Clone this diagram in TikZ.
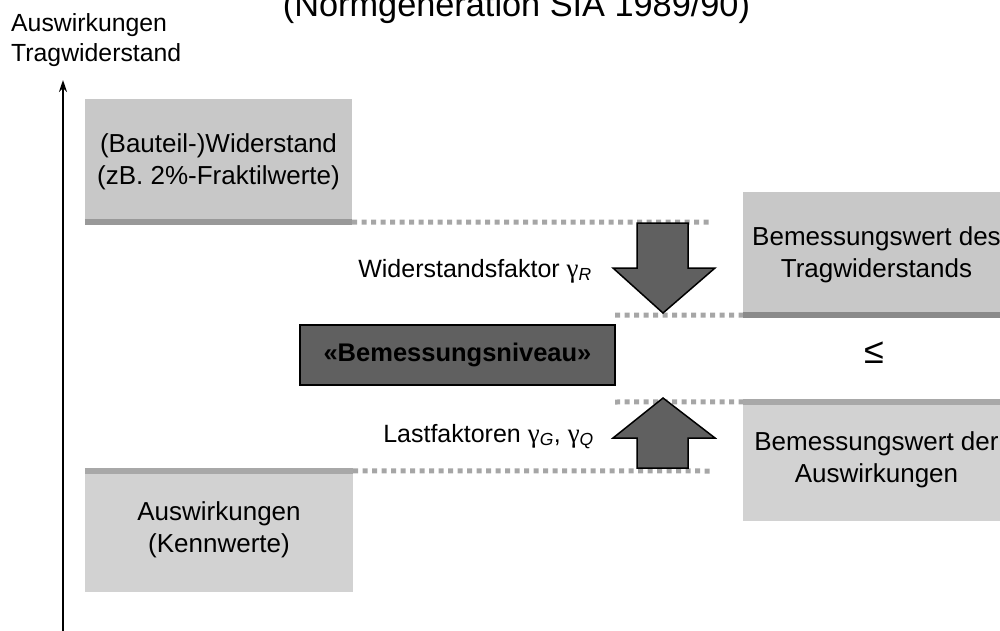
\documentclass[tikz,border=0pt]{standalone}
\usepackage{fontspec}
\setmainfont{Liberation Sans}
\newfontfamily\greekfont{Liberation Serif}
\usetikzlibrary{arrows.meta}
\definecolor{boxA}{HTML}{C8C8C8}
\definecolor{boxB}{HTML}{D2D2D2}
\definecolor{bandA}{HTML}{999999}
\definecolor{bandB}{HTML}{A8A8A8}
\definecolor{dotcol}{HTML}{A6A6A6}
\definecolor{darkfill}{HTML}{606060}
\newcommand{\gam}{{\greekfont\fontsize{27}{31}\selectfont γ}}
\begin{document}
\begin{tikzpicture}[x=1pt,y=-1pt,
  txt/.style={font=\fontsize{25}{31}\selectfont, align=center, inner sep=0pt},
  graybox/.style={draw=none, inner sep=0pt, minimum width=267pt, font=\fontsize{26}{32}\selectfont, align=center},
  band/.style={line width=6pt},
  guide/.style={line width=5pt, dotcol, dash pattern=on 5pt off 4.5pt},
  bigarrow/.style={fill=darkfill, draw=black, line width=1.5pt, line join=miter}
]
\useasboundingbox (0,0) rectangle (1000,631);
\clip (0,0) rectangle (1000,631);

% title and axis labels
\node[anchor=base, inner sep=0pt, font=\fontsize{34.3}{40}\selectfont] (title) at (516.5,17) {(Normgeneration SIA 1989/90)};
\node[anchor=base west, inner sep=0pt, font=\fontsize{24.8}{30}\selectfont] (ylab1) at (11,32) {Auswirkungen};
\node[anchor=base west, inner sep=0pt, font=\fontsize{24.8}{30}\selectfont] (ylab2) at (11,62) {Tragwiderstand};

% axis
\coordinate (ax0) at (63,640);
\coordinate (ax1) at (63,80);
\draw[line width=2.2pt, -{Stealth[length=12pt,width=8pt]}] (ax0) -- (ax1);

% gray boxes
\node[graybox, fill=boxA, minimum height=126pt] (tl) at (218.5,162) {(Bauteil-)Widerstand\\(zB. 2\%-Fraktilwerte)};
\node[graybox, fill=boxB, minimum width=268pt, minimum height=124pt] (bl) at (219,530) {Auswirkungen\\(Kennwerte)};
\node[graybox, fill=boxA, minimum height=126pt] (tr) at (876.5,255) {Bemessungswert des\\Tragwiderstands};
\node[graybox, fill=boxB, minimum height=122pt] (br) at (876.5,460) {Bemessungswert der\\Auswirkungen};

% bands at box edges
\draw[band, bandA] ([yshift=3pt]tl.south west) -- ([yshift=3pt]tl.south east);
\draw[band, bandB] ([yshift=-3pt]bl.north west) -- ([yshift=-3pt]bl.north east);
\draw[band, color=bandA!90!black] ([yshift=3pt]tr.south west) -- ([yshift=3pt]tr.south east);
\draw[band, bandB] ([yshift=-3pt]br.north west) -- ([yshift=-3pt]br.north east);

% guide lines
\coordinate (g1) at (712,222);
\coordinate (g2) at (615,315);
\coordinate (g3) at (615,402);
\coordinate (g4) at (712,471);
\draw[guide] ([yshift=3pt]tl.south east) -- (g1);
\draw[guide] (g2) -- ([yshift=3pt]tr.south west);
\draw[guide] (g3) -- ([yshift=-3pt]br.north west);
\draw[guide] ([yshift=-3pt]bl.north east) -- (g4);

% level box
\node[draw=black, line width=1.5pt, fill=darkfill, minimum width=315pt, minimum height=60pt, inner sep=0pt,
      font=\fontsize{25.5}{30}\selectfont\bfseries] (niveau) at (457.5,355) {«Bemessungsniveau»};

% big arrows
\draw[bigarrow] (637,223) -- (688,223) -- (688,268) -- (715,268) -- (663,313) -- (613,268) -- (637,268) -- cycle;
\draw[bigarrow] (637,468) -- (688,468) -- (688,438) -- (715,438) -- (663,398) -- (613,438) -- (637,438) -- cycle;

% factor labels
\node[txt, anchor=base east] (wf) at (592,277) {Widerstandsfaktor \gam\textsubscript{\textit{R}}};
\node[txt, anchor=base east] (lf) at (594,442) {Lastfaktoren \gam\textsubscript{\textit{G}}, \gam\textsubscript{\textit{Q}}};

% relation
\node[inner sep=0pt, font=\fontsize{36}{36}\selectfont] (leq) at (874,353) {≤};
\end{tikzpicture}
\end{document}
